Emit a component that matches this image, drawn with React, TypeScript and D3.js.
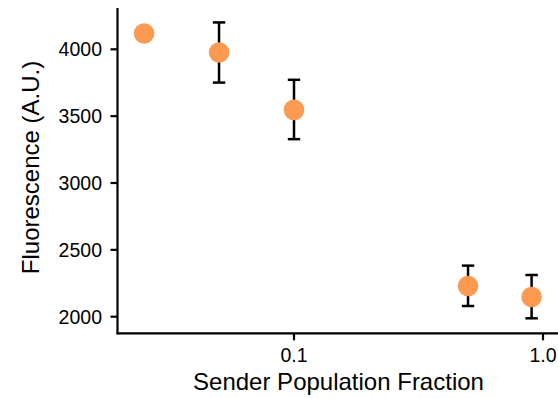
import React from "react";
import * as d3 from "d3";

const fractions = [0.025, 0.05, 0.1, 0.5, 0.9];
const means = [4118, 3976, 3547, 2230, 2147];
const lows = [null, 3751, 3328, 2080, 1988];
const highs = [null, 4201, 3772, 2382, 2312];
const xTicks = [0.1, 1.0];
const xTickLabels = ["0.1", "1.0"];
const yTicks = [2000, 2500, 3000, 3500, 4000];

const W = 558;
const H = 398;
const FONT = "'Liberation Sans', Arial, Helvetica, sans-serif";

export default function App() {
  const x = d3.scaleLog().domain([0.1, 1]).range([294, 543]);
  const y = d3.scaleLinear().domain([2000, 4000]).range([316.7, 49.3]);
  const left = 117.5;
  const bottom = 333.3;
  const top = 8;
  const color = "#fd9a52";
  return (
    <svg width={W} height={H} style={{ position: "absolute", left: 0, top: 0, background: "#fff" }}>
      <line x1={left} x2={left} y1={top} y2={bottom + 1} stroke="#000" strokeWidth={2.2} />
      <line x1={left - 1} x2={W + 5} y1={bottom} y2={bottom} stroke="#000" strokeWidth={2.2} />
      {yTicks.map((t) => (
        <g key={t}>
          <line x1={left - 7} x2={left} y1={y(t)} y2={y(t)} stroke="#000" strokeWidth={2.2} />
          <text x={left - 15.5} y={y(t)} dy="0.35em" textAnchor="end" fontFamily={FONT} fontSize={19.5} fill="#000">
            {t}
          </text>
        </g>
      ))}
      {xTicks.map((t, i) => (
        <g key={t}>
          <line x1={x(t)} x2={x(t)} y1={bottom} y2={bottom + 7} stroke="#000" strokeWidth={2.2} />
          <text x={x(t)} y={362} textAnchor="middle" fontFamily={FONT} fontSize={19.5} fill="#000">
            {xTickLabels[i]}
          </text>
        </g>
      ))}
      <text x={338.5} y={390} textAnchor="middle" fontFamily={FONT} fontSize={24} fill="#000">
        Sender Population Fraction
      </text>
      <text
        transform={`translate(39.3,${167.5}) rotate(-90)`}
        textAnchor="middle"
        fontFamily={FONT}
        fontSize={24}
        fill="#000"
      >
        Fluorescence (A.U.)
      </text>
      {fractions.map((f, i) =>
        lows[i] == null ? null : (
          <g key={"e" + i} stroke="#000" strokeWidth={2.5}>
            <line x1={x(f)} x2={x(f)} y1={y(highs[i] as number)} y2={y(lows[i] as number)} />
            <line x1={x(f) - 6.2} x2={x(f) + 6.2} y1={y(highs[i] as number)} y2={y(highs[i] as number)} />
            <line x1={x(f) - 6.2} x2={x(f) + 6.2} y1={y(lows[i] as number)} y2={y(lows[i] as number)} />
          </g>
        )
      )}
      {fractions.map((f, i) => (
        <circle key={"p" + i} cx={x(f)} cy={y(means[i])} r={10.3} fill={color} />
      ))}
    </svg>
  );
}
